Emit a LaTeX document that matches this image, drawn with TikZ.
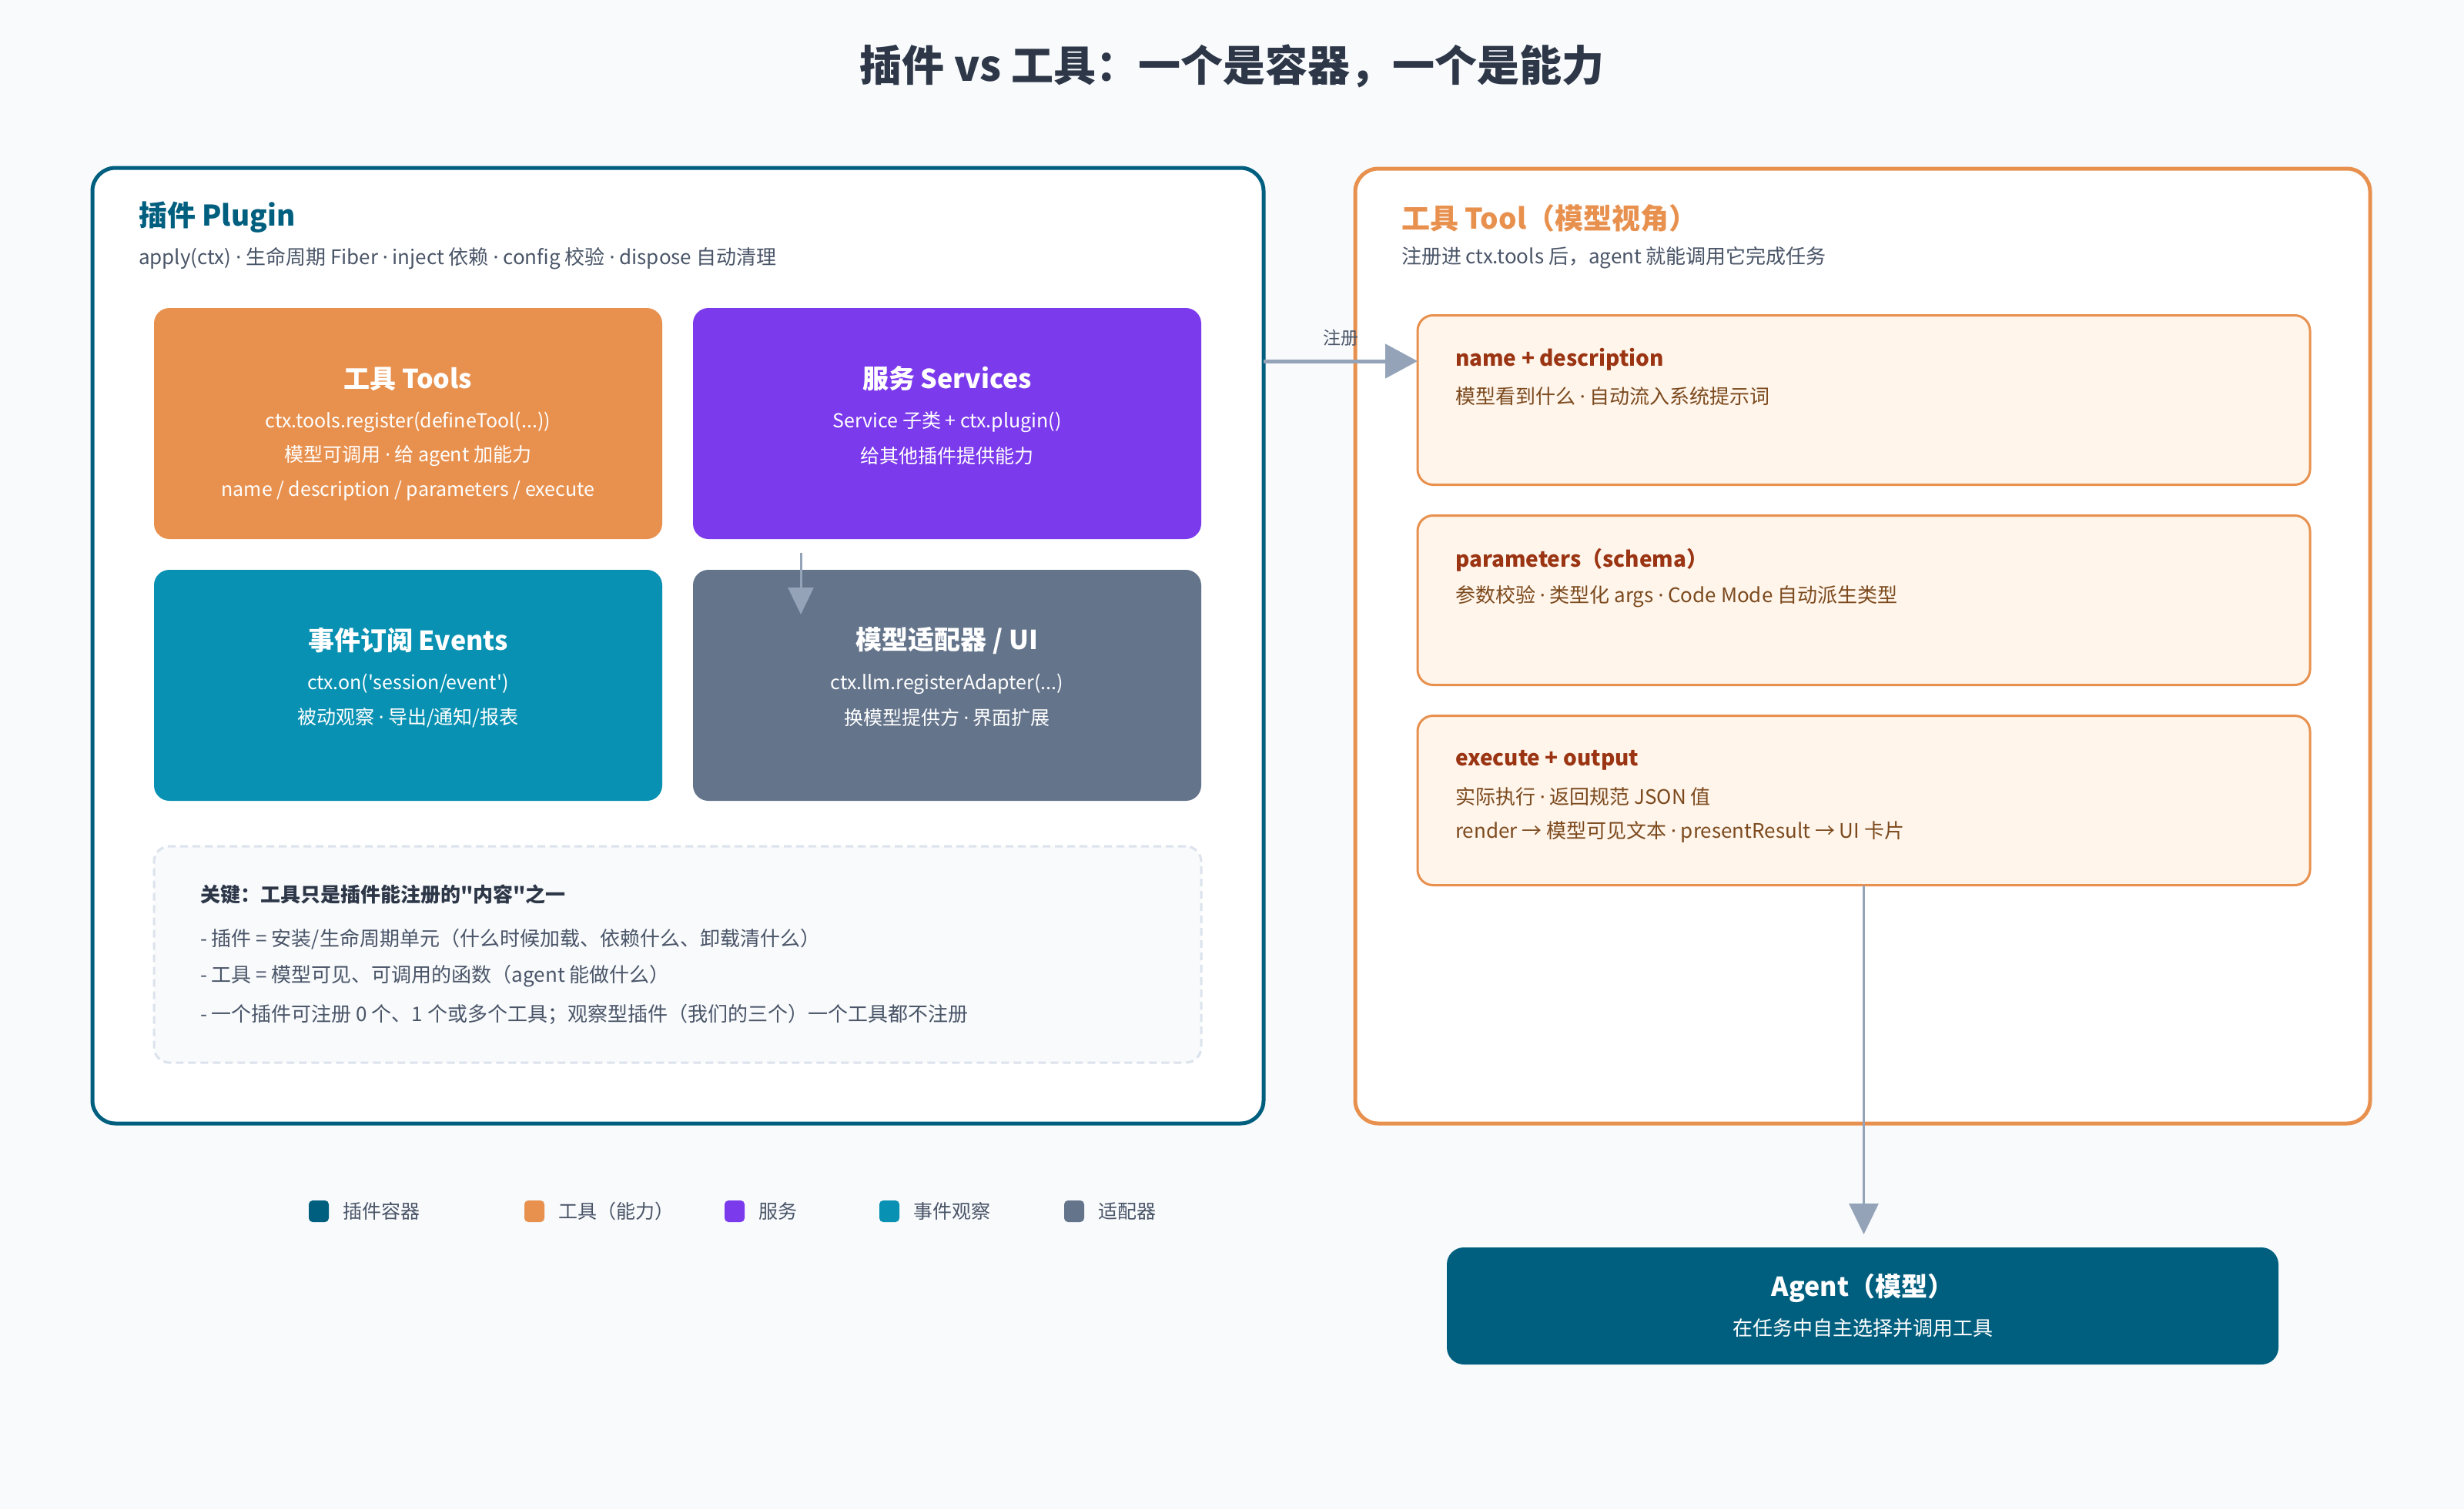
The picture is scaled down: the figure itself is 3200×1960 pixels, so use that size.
\documentclass[tikz,border=0pt]{standalone}
\usepackage{fontspec}
\newfontfamily\cjk{Noto Sans CJK SC}
\newfontfamily\latn{Noto Sans}
\newcommand{\mdot}{{\latn ·}}
\usetikzlibrary{arrows.meta, positioning}
\definecolor{colBg}{HTML}{F8FAFC}
\definecolor{colPlug}{HTML}{005F7F}
\definecolor{colTool}{HTML}{E8914F}
\definecolor{colSvc}{HTML}{7C3AED}
\definecolor{colEvt}{HTML}{0891B2}
\definecolor{colAdp}{HTML}{64748B}
\definecolor{colInk}{HTML}{2D3748}
\definecolor{colMute}{HTML}{4A5568}
\definecolor{colLine}{HTML}{94A3B8}
\definecolor{colCard}{HTML}{FFF5EB}
\definecolor{colRust}{HTML}{9A3412}
\definecolor{colBrown}{HTML}{7C4A1E}
\definecolor{colDash}{HTML}{DCE3EC}

\begin{document}
\begin{tikzpicture}[x=1pt, y=-1pt, every node/.style={inner sep=0pt, outer sep=0pt},
    ttl/.style={font=\cjk\fontsize{55}{60}\selectfont\bfseries, text=colInk},
    panel/.style={draw, line width=5pt, fill=white, rounded corners=30pt},
    ptitle/.style={font=\cjk\fontsize{37}{42}\selectfont\bfseries, anchor=west},
    psub/.style={font=\cjk\fontsize{26}{30}\selectfont, text=colMute, anchor=west},
    block/.style={rounded corners=20pt, minimum width=660pt, minimum height=300pt},
    btitle/.style={font=\cjk\fontsize{34}{38}\selectfont\bfseries, text=white},
    bbody/.style={font=\cjk\fontsize{25}{29}\selectfont, text=white},
    keybox/.style={draw=colDash, line width=3pt, dash pattern=on 10pt off 6pt, fill=colBg, rounded corners=20pt},
    ktitle/.style={font=\cjk\fontsize{26}{30}\selectfont\bfseries, text=colInk, anchor=west},
    kbody/.style={font=\cjk\fontsize{26}{30}\selectfont, text=colMute, anchor=west},
    card/.style={draw=colTool, line width=3pt, fill=colCard, rounded corners=20pt, minimum width=1159pt, minimum height=220pt},
    ctitle/.style={font=\cjk\fontsize{28}{32}\selectfont\bfseries, text=colRust, anchor=west},
    cbody/.style={font=\cjk\fontsize{26}{30}\selectfont, text=colBrown, anchor=west},
    flow/.style={draw=colLine, line width=3pt},
    legtxt/.style={font=\cjk\fontsize{25}{30}\selectfont, text=colMute}
]
\fill[colBg] (0,0) rectangle (3200,1960);
\useasboundingbox (0,0) rectangle (3200,1960);

\node[ttl] (title) at (1600,86) {插件 vs 工具：一个是容器，一个是能力};

% left: plugin container
\node[panel, draw=colPlug, minimum width=1521pt, minimum height=1241pt] (plugin) at (880.5,838.5) {};
\node[ptitle, text=colPlug] (plugT) at (180,282) {插件 Plugin};
\node[psub] (plugS) at (180,336) {apply(ctx) \mdot{} 生命周期 Fiber \mdot{} inject 依赖 \mdot{} config 校验 \mdot{} dispose 自动清理};

\node[block, fill=colTool] (tools) at (530,550) {};
\node[btitle] (toolsT) at (530,492) {工具 Tools};
\node[bbody] (toolsA) at (530,548) {ctx.tools.register(defineTool(...))};
\node[bbody] (toolsB) at (530,592) {模型可调用 \mdot{} 给 agent 加能力};
\node[bbody] (toolsC) at (530,637) {name / description / parameters / execute};

\node[block, fill=colSvc] (svc) at (1230,550) {};
\node[btitle] (svcT) at (1230,492) {服务 Services};
\node[bbody] (svcA) at (1230,548) {Service 子类 + ctx.plugin()};
\node[bbody] (svcB) at (1230,592) {给其他插件提供能力};

\node[block, fill=colEvt] (evt) at (530,890) {};
\node[btitle] (evtT) at (530,832) {事件订阅 Events};
\node[bbody] (evtA) at (530,888) {ctx.on('session/event')};
\node[bbody] (evtB) at (530,932) {被动观察 \mdot{} 导出/通知/报表};

\node[block, fill=colAdp] (adp) at (1230,890) {};
\node[btitle] (adpT) at (1230,832) {模型适配器 / UI};
\node[bbody] (adpA) at (1230,888) {ctx.llm.registerAdapter(...)};
\node[bbody] (adpB) at (1230,932) {换模型提供方 \mdot{} 界面扩展};

\coordinate (drop) at (1040,798);
\draw[flow, -{Triangle[length=35pt,width=33pt]}, shorten <=18pt] (svc.south -| drop) -- (drop);

% key note
\node[keybox, minimum width=1360pt, minimum height=281pt] (key) at (880,1239.5) {};
\node[ktitle] (keyT) at (260,1162) {关键：工具只是插件能注册的"内容"之一};
\node[kbody] (keyA) at (260,1220) {- 插件 = 安装/生命周期单元（什么时候加载、依赖什么、卸载清什么）};
\node[kbody] (keyB) at (260,1268) {- 工具 = 模型可见、可调用的函数（agent 能做什么）};
\node[kbody] (keyC) at (260,1317) {- 一个插件可注册 0 个、1 个或多个工具；观察型插件（我们的三个）一个工具都不注册};

% right: tool from the model's view
\node[panel, draw=colTool, minimum width=1318pt, minimum height=1240pt] (toolp) at (2419,839) {};
\node[ptitle, text=colTool] (toolpT) at (1820,283) {工具 Tool（模型视角）};
\node[psub] (toolpS) at (1820,335) {注册进 ctx.tools 后，agent 就能调用它完成任务};

\node[card] (nd) at (2420.5,519.5) {};
\node[ctitle] (ndT) at (1890,467) {name + description};
\node[cbody] (ndA) at (1890,515) {模型看到什么 \mdot{} 自动流入系统提示词};

\node[card] (prm) at (2420.5,779.5) {};
\node[ctitle] (prmT) at (1890,727) {parameters（schema）};
\node[cbody] (prmA) at (1890,775) {参数校验 \mdot{} 类型化 args \mdot{} Code Mode 自动派生类型};

\node[card] (exo) at (2420.5,1039.5) {};
\node[ctitle] (exoT) at (1890,987) {execute + output};
\node[cbody] (exoA) at (1890,1035) {实际执行 \mdot{} 返回规范 JSON 值};
\node[cbody] (exoB) at (1890,1080) {render → 模型可见文本 \mdot{} presentResult → UI 卡片};

\coordinate (reg) at (1700,469);
\draw[flow, line width=5pt, -{Triangle[length=42pt,width=44pt]}] (reg -| plugin.east) -- (reg -| nd.west)
    node[midway, above=20pt, legtxt, font=\cjk\fontsize{23}{28}\selectfont] (regL) {注册};

% agent
\node[fill=colPlug, rounded corners=22pt, minimum width=1080pt, minimum height=152pt] (agent) at (2419,1696) {};
\node[btitle] (agentT) at (2419,1673) {Agent（模型）};
\node[bbody, font=\cjk\fontsize{26}{30}\selectfont] (agentA) at (2419,1725) {在任务中自主选择并调用工具};
\draw[flow, -{Triangle[length=40pt,width=38pt]}, shorten >=17pt] (exo.south) -- (exo.south |- agent.north);

% legend
\foreach \x/\c/\t [count=\i] in {414/colPlug/插件容器, 694/colTool/工具（能力）, 954/colSvc/服务, 1155/colEvt/事件观察, 1395/colAdp/适配器} {
    \node[fill=\c, rounded corners=5pt, minimum width=26pt, minimum height=28pt] (sq\i) at (\x,1573) {};
    \node[legtxt, right=18pt of sq\i] (lg\i) {\t};
}
\end{tikzpicture}
\end{document}
